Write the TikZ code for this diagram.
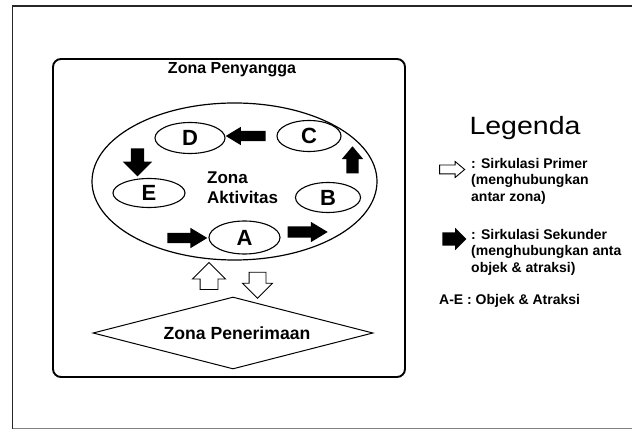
\documentclass[tikz,border=0pt]{standalone}
\usepackage{fontspec}
\usepackage{graphicx}
\setmainfont{Liberation Sans}
\usetikzlibrary{shapes.geometric,shapes.arrows}
\tikzset{
  fs/.style={font=\fontsize{#1}{#1}\selectfont\bfseries},
  zone/.style={ellipse,draw,line width=1.2pt,inner sep=0pt},
  obj/.style={ellipse,draw,line width=1.1pt,inner sep=0pt,font=\fontsize{22}{22}\selectfont\bfseries},
  blk/.style={single arrow,fill=black,draw=none,inner xsep=0pt,single arrow head indent=0pt,minimum width=0pt},
  wht/.style={single arrow,fill=white,draw=black,line width=0.9pt,inner xsep=0pt,single arrow head indent=0pt,minimum width=0pt},
  legtxt/.style={align=left,inner sep=0pt,font=\fontsize{14}{16.5}\selectfont\bfseries}
}
\begin{document}
\begin{tikzpicture}[x=1pt,y=-1pt]
\useasboundingbox (0,0) rectangle (632,430);
% outer frame
\draw[line width=1.4pt,black!85] (632,6) -- (12.7,6) -- (12.7,428.5);
\draw[line width=1.2pt,black!50] (12.7,428.5) -- (632,428.5);

% buffer zone
\node[draw,rounded corners=8pt,line width=1.9pt,minimum width=352pt,minimum height=318pt,inner sep=0pt] (buf) at (229,218) {};
\node[fs=16,inner sep=0pt,anchor=base] (bufT) at (232,74) {Zona Penyangga};

% activity zone
\node[zone,minimum width=285pt,minimum height=157pt] (act) at (234.5,181.5) {};
\node[align=left,inner sep=0pt,font=\fontsize{17}{20}\selectfont\bfseries,anchor=west] (actT) at (207,188) {Zona\\Aktivitas};

% objects
\node[obj,minimum width=70pt,minimum height=31pt] (D) at (190,138) {D};
\node[obj,minimum width=64pt,minimum height=31pt] (C) at (309,136) {C};
\node[obj,minimum width=72pt,minimum height=29pt] (E) at (149,193) {E};
\node[obj,minimum width=65pt,minimum height=30pt] (B) at (328,197.5) {B};
\node[obj,minimum width=71pt,minimum height=33pt] (A) at (244.5,237.5) {A};

% secondary circulation arrows
\node[blk,minimum height=40pt,inner ysep=5pt,single arrow head extend=5pt,single arrow tip angle=62] (aEA) at (183,238) {};
\node[blk,minimum height=40pt,inner ysep=5.5pt,single arrow head extend=4.5pt,single arrow tip angle=62] (aAB) at (303,232) {};
\node[blk,minimum height=27pt,inner ysep=6pt,single arrow head extend=4.5pt,single arrow tip angle=80,rotate=90] (aBC) at (352.5,163.5) {};
\node[blk,minimum height=40pt,inner ysep=5pt,single arrow head extend=4pt,single arrow tip angle=62,rotate=180] (aCD) at (250,136) {};
\node[blk,minimum height=28pt,inner ysep=6.5pt,single arrow head extend=8pt,single arrow tip angle=90,rotate=-90] (aDE) at (137.5,159) {};

% reception zone
\node[diamond,draw,line width=1pt,minimum width=280pt,minimum height=72pt,inner sep=0pt] (rec) at (233,333) {};
\node[fs=17.6,inner sep=0pt,anchor=base] (recT) at (237,339.5) {Zona Penerimaan};

% primary circulation arrows
\node[wht,minimum height=27pt,inner ysep=8.5pt,single arrow head extend=7.5pt,single arrow tip angle=90,rotate=90] (up) at (209,280.5) {};
\node[wht,minimum height=26pt,inner ysep=8pt,single arrow head extend=6.5pt,single arrow tip angle=90,rotate=-90] (down) at (257.5,281) {};

% legend
\node[inner sep=0pt,font=\fontsize{25}{25}\selectfont] (leg) at (525,128) {\scalebox{1.14}[1]{Legenda}};
\node[wht,minimum height=25pt,inner ysep=4pt,single arrow head extend=3.5pt,single arrow tip angle=80] (legW) at (449.5,169.5) {};
\node[legtxt,anchor=north west] (legWT) at (471,158) {: Sirkulasi Primer\\(menghubungkan\\antar zona)};
\node[blk,minimum height=24pt,inner ysep=6.5pt,single arrow head extend=4.5pt,single arrow tip angle=90] (legB) at (451,239) {};
\node[legtxt,anchor=north west] (legBT) at (471,229) {: Sirkulasi Sekunder\\(menghubungkan anta\\objek \& atraksi)};
\node[legtxt,anchor=base west] (legAE) at (439,305) {A-E : Objek \& Atraksi};
\end{tikzpicture}
\end{document}
